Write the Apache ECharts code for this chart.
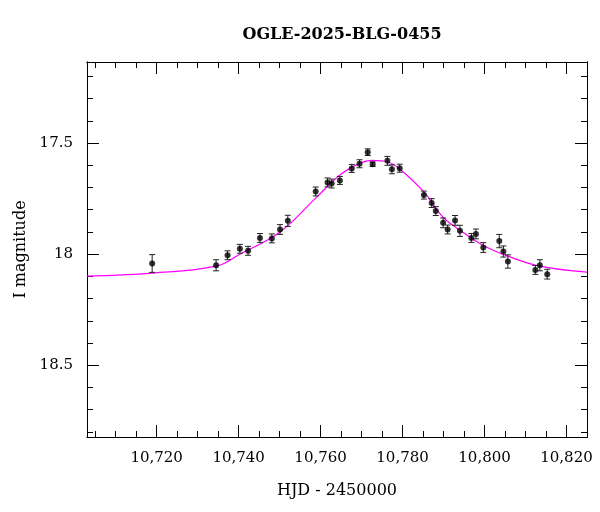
<!DOCTYPE html>
<html lang="en">
<head>
    <meta charset="utf-8">
    <title>OGLE-2025-BLG-0455</title>
</head>
<script type="text/javascript" src="https://cdn.jsdelivr.net/npm/echarts@6/dist/echarts.min.js"></script>
<body style="margin:0">
    <div id="chart" style="width: 600px; height: 512px;"></div>
</body>
<script type="text/javascript">
    // observed points (HJD-2450000, I mag, error)
    let hjd = [10718.9, 10734.5, 10737.3, 10740.3, 10742.3, 10745.2, 10748.1, 10750.1, 10752.0, 10758.8,
        10761.7, 10762.7, 10764.7, 10767.6, 10769.5, 10771.5, 10772.7, 10776.3, 10777.4, 10779.3,
        10785.2, 10787.1, 10788.1, 10789.9, 10791.0, 10792.8, 10794.0, 10796.8, 10797.9, 10799.7,
        10803.6, 10804.6, 10805.7, 10812.4, 10813.5, 10815.3];
    let mag = [18.042, 18.050, 18.005, 17.976, 17.985, 17.927, 17.929, 17.889, 17.850, 17.718,
        17.677, 17.682, 17.668, 17.614, 17.593, 17.541, 17.595, 17.580, 17.618, 17.613,
        17.734, 17.770, 17.806, 17.859, 17.889, 17.848, 17.895, 17.927, 17.909, 17.970,
        17.941, 17.988, 18.033, 18.071, 18.050, 18.090];
    let err = [0.04, 0.025, 0.02, 0.02, 0.02, 0.02, 0.02, 0.022, 0.025, 0.02,
        0.02, 0.02, 0.018, 0.018, 0.018, 0.015, 0.01, 0.02, 0.02, 0.018,
        0.018, 0.02, 0.02, 0.022, 0.02, 0.022, 0.025, 0.02, 0.022, 0.022,
        0.03, 0.025, 0.03, 0.02, 0.025, 0.022];
    // model curve
    let modelT = [10703, 10718.9, 10734.5, 10740.3, 10750.1, 10758.8, 10764.7, 10769.6, 10772.5, 10776.4,
        10779.3, 10785.2, 10789.8, 10794.0, 10799.6, 10805.7, 10813.5, 10825];
    let modelM = [18.099, 18.085, 18.054, 18.0, 17.90, 17.748, 17.644, 17.59, 17.578, 17.585,
        17.617, 17.72, 17.832, 17.892, 17.96, 18.009, 18.054, 18.081];
    let xLabels = [10720, 10740, 10760, 10780, 10800, 10820];
    let yLabels = [17.5, 18, 18.5];

    let xMinor = [];
    for (let v = 10705; v <= 10825; v += 5) xMinor.push(v);
    let yMinor = [];
    for (let v = 172; v <= 188; v++) yMinor.push(v / 10);

    let font = 'DejaVu Serif';
    let xMin = 10703, xMax = 10825, yMin = 17.135, yMax = 18.823;
    let lineStyle = { color: '#000', width: 1 };

    function xAx(pos, ticks, len, labels) {
        return {
            type: 'value', position: pos, min: xMin, max: xMax,
            axisLine: { show: true, onZero: false, lineStyle: lineStyle },
            axisTick: { inside: true, length: len, customValues: ticks, lineStyle: lineStyle },
            axisLabel: labels ? { customValues: xLabels, fontFamily: font, fontSize: 15, color: '#000', margin: 14 } : { show: false },
            splitLine: { show: false }
        };
    }
    function yAx(pos, ticks, len, labels) {
        return {
            type: 'value', position: pos, min: yMin, max: yMax, inverse: true,
            axisLine: { show: true, onZero: false, lineStyle: lineStyle },
            axisTick: { inside: true, length: len, customValues: ticks, lineStyle: lineStyle },
            axisLabel: labels ? { customValues: yLabels, fontFamily: font, fontSize: 15, color: '#000', margin: 14,
                formatter: v => String(v) } : { show: false },
            splitLine: { show: false }
        };
    }

    let xAxes = [xAx('bottom', xLabels, 12, true), xAx('bottom', xMinor, 6), xAx('top', xLabels, 12), xAx('top', xMinor, 6)];
    xAxes[0].name = 'HJD - 2450000';
    xAxes[0].nameLocation = 'middle';
    xAxes[0].nameGap = 46;
    xAxes[0].nameTextStyle = { fontFamily: font, fontSize: 16, color: '#000' };
    let yAxes = [yAx('left', yLabels, 12, true), yAx('left', yMinor, 6), yAx('right', yLabels, 12), yAx('right', yMinor, 6)];
    yAxes[0].name = 'I magnitude';
    yAxes[0].nameLocation = 'middle';
    yAxes[0].nameGap = 58;
    yAxes[0].nameTextStyle = { fontFamily: font, fontSize: 16, color: '#000' };

    let pts = hjd.map((t, i) => [t, mag[i]]);
    let bars = hjd.map((t, i) => [t, mag[i] - err[i], mag[i] + err[i]]);

    let chart = echarts.init(document.getElementById('chart'));
    chart.setOption({
        animation: false,
        backgroundColor: '#fff',
        title: { text: 'OGLE-2025-BLG-0455', left: 337, top: 22, textAlign: 'center',
            textStyle: { fontFamily: font, fontSize: 16, fontWeight: 'bold', color: '#000' } },
        grid: { left: 87, right: 13, top: 62, bottom: 75 },
        xAxis: xAxes,
        yAxis: yAxes,
        series: [{
            type: 'line', data: modelT.map((t, i) => [t, modelM[i]]), smooth: 0.4, showSymbol: false,
            lineStyle: { color: '#ff00ff', width: 1.2 }, z: 1
        }, {
            type: 'custom', data: bars, z: 2,
            renderItem: function (params, api) {
                let top = api.coord([api.value(0), api.value(1)]);
                let bot = api.coord([api.value(0), api.value(2)]);
                let style = { stroke: '#222', lineWidth: 1 };
                return { type: 'group', children: [
                    { type: 'line', shape: { x1: top[0], y1: top[1], x2: bot[0], y2: bot[1] }, style: style },
                    { type: 'line', shape: { x1: top[0] - 3, y1: top[1], x2: top[0] + 3, y2: top[1] }, style: style },
                    { type: 'line', shape: { x1: bot[0] - 3, y1: bot[1], x2: bot[0] + 3, y2: bot[1] }, style: style }
                ] };
            }
        }, {
            type: 'scatter', data: pts, symbolSize: 6, itemStyle: { color: '#000' }, z: 3
        }]
    });
</script>
</html>
